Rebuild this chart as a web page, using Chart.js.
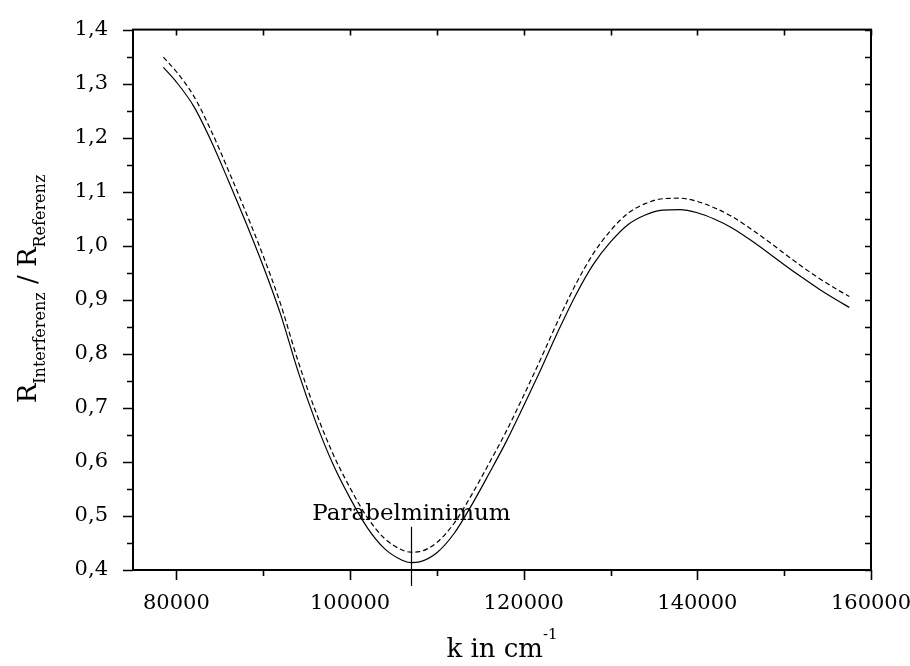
<!DOCTYPE html>
<html lang="de">
<head>
  <meta charset="UTF-8">
  <title>R Interferenz / R Referenz</title>
  <script src="https://cdn.jsdelivr.net/npm/chart.js"></script>
  <style>
    html, body { margin: 0; padding: 0; background: #fff; }
    .chart-box { position: relative; width: 910px; height: 666px; }
  </style>
</head>
<body>
  <div class="chart-box"><canvas id="chart"></canvas></div>

  <script>
    // wave number k (cm^-1)
    const kValues = [78500, 80000, 82000, 84000, 86000, 88000, 90000, 92000, 94000, 96000,
      98000, 100000, 102000, 104000, 106000, 107000, 108000, 110000, 112000, 114000,
      116000, 118000, 120000, 122000, 124000, 126000, 128000, 130000, 132000, 134000,
      136000, 138000, 140000, 142000, 144000, 146000, 148000, 150000, 152000, 154000,
      156000, 157500];
    // solid curve
    const solidValues = [1.330, 1.303, 1.258, 1.194, 1.120, 1.043, 0.962, 0.873, 0.768, 0.676,
      0.597, 0.533, 0.478, 0.439, 0.418, 0.4135, 0.415, 0.432, 0.468, 0.520,
      0.578, 0.638, 0.704, 0.772, 0.843, 0.909, 0.965, 1.007, 1.039, 1.057,
      1.066, 1.067, 1.061, 1.049, 1.033, 1.012, 0.989, 0.965, 0.942, 0.920,
      0.900, 0.886];
    // dashed curve
    const dashedValues = [1.349, 1.322, 1.277, 1.213, 1.139, 1.062, 0.981, 0.892, 0.787, 0.695,
      0.616, 0.552, 0.497, 0.458, 0.437, 0.433, 0.434, 0.451, 0.487, 0.539,
      0.597, 0.657, 0.723, 0.792, 0.863, 0.929, 0.985, 1.028, 1.060, 1.078,
      1.087, 1.088, 1.082, 1.070, 1.054, 1.033, 1.010, 0.986, 0.962, 0.940,
      0.920, 0.906];

    const xTickValues = [80000, 100000, 120000, 140000, 160000];
    const yTickValues = [0.4, 0.5, 0.6, 0.7, 0.8, 0.9, 1.0, 1.1, 1.2, 1.3, 1.4];

    const minimumK = 107000;
    const minimumTop = 0.48;
    const minimumLabel = 'Parabelminimum';

    const serif = "'DejaVu Serif', serif";

    // frame, major/minor ticks, axis titles and the minimum marker
    const framePlugin = {
      id: 'frame',
      afterDraw(chart) {
        const { ctx, chartArea: a, scales: { x, y } } = chart;
        ctx.save();
        ctx.strokeStyle = '#000';
        ctx.fillStyle = '#000';

        ctx.lineWidth = 2;
        ctx.strokeRect(a.left, a.top, a.right - a.left, a.bottom - a.top);

        ctx.lineWidth = 1.6;
        ctx.beginPath();
        const xMinor = xTickValues.slice(1).map((v, i) => (v + xTickValues[i]) / 2);
        xTickValues.forEach(v => {
          const px = Math.round(x.getPixelForValue(v)) + 0.5;
          ctx.moveTo(px, a.bottom); ctx.lineTo(px, a.bottom + 10);
          ctx.moveTo(px, a.top); ctx.lineTo(px, a.top + 6);
        });
        xMinor.forEach(v => {
          const px = Math.round(x.getPixelForValue(v)) + 0.5;
          ctx.moveTo(px, a.bottom); ctx.lineTo(px, a.bottom + 6);
          ctx.moveTo(px, a.top); ctx.lineTo(px, a.top + 6);
        });
        const yMinor = yTickValues.slice(1).map((v, i) => (v + yTickValues[i]) / 2);
        yTickValues.forEach(v => {
          const py = Math.round(y.getPixelForValue(v)) + 0.5;
          ctx.moveTo(a.left, py); ctx.lineTo(a.left - 10, py);
          ctx.moveTo(a.right, py); ctx.lineTo(a.right - 6, py);
        });
        yMinor.forEach(v => {
          const py = Math.round(y.getPixelForValue(v)) + 0.5;
          ctx.moveTo(a.left, py); ctx.lineTo(a.left - 6, py);
          ctx.moveTo(a.right, py); ctx.lineTo(a.right - 6, py);
        });
        ctx.stroke();

        // minimum marker
        const mx = Math.round(x.getPixelForValue(minimumK)) + 0.5;
        const my = y.getPixelForValue(minimumTop);
        ctx.lineWidth = 1.2;
        ctx.beginPath();
        ctx.moveTo(mx, my);
        ctx.lineTo(mx, a.bottom + 16);
        ctx.stroke();
        ctx.font = '23px ' + serif;
        ctx.textAlign = 'center';
        ctx.textBaseline = 'alphabetic';
        ctx.fillText(minimumLabel, mx, my - 7);

        // x title: k in cm^-1
        const big = '26px ' + serif, small = '16px ' + serif, sup = '15px ' + serif;
        const cx = (a.left + a.right) / 2;
        ctx.textAlign = 'left';
        ctx.font = big;
        const w1 = ctx.measureText('k in cm').width;
        ctx.font = sup;
        const w2 = ctx.measureText('-1').width;
        const sx = cx - (w1 + w2) / 2;
        ctx.font = big;
        ctx.fillText('k in cm', sx, 657);
        ctx.font = sup;
        ctx.fillText('-1', sx + w1, 639);

        // y title: R_Interferenz / R_Referenz
        const parts = [
          { t: 'R', f: big, dy: 0 },
          { t: 'Interferenz', f: small, dy: 9 },
          { t: ' / R', f: big, dy: 0 },
          { t: 'Referenz', f: small, dy: 9 }
        ];
        let total = 0;
        parts.forEach(p => { ctx.font = p.f; p.w = ctx.measureText(p.t).width; total += p.w; });
        ctx.translate(36, 289);
        ctx.rotate(-Math.PI / 2);
        let ox = -total / 2;
        parts.forEach(p => {
          ctx.font = p.f;
          ctx.fillText(p.t, ox, p.dy);
          ox += p.w;
        });
        ctx.restore();
      }
    };

    new Chart(document.getElementById('chart'), {
      type: 'line',
      data: {
        datasets: [
          {
            label: 'R',
            data: kValues.map((k, i) => ({ x: k, y: solidValues[i] })),
            borderColor: '#000',
            borderWidth: 1.2,
            pointRadius: 0,
            cubicInterpolationMode: 'monotone'
          },
          {
            label: 'R (gestrichelt)',
            data: kValues.map((k, i) => ({ x: k, y: dashedValues[i] })),
            borderColor: '#000',
            borderWidth: 1.2,
            borderDash: [5, 3],
            pointRadius: 0,
            cubicInterpolationMode: 'monotone'
          }
        ]
      },
      options: {
        responsive: true,
        maintainAspectRatio: false,
        animation: false,
        layout: { padding: { top: 29, right: 39, left: 0, bottom: 0 } },
        plugins: { legend: { display: false }, tooltip: { enabled: false } },
        scales: {
          x: {
            type: 'linear',
            min: 75000,
            max: 160000,
            grid: { display: false },
            border: { display: false },
            afterBuildTicks: s => { s.ticks = xTickValues.map(value => ({ value })); },
            afterFit: s => { s.height = 96; s.paddingLeft = 0; s.paddingRight = 0; },
            ticks: {
              color: '#000',
              padding: 13,
              maxRotation: 0,
              font: { family: serif, size: 21 },
              callback: v => String(v)
            }
          },
          y: {
            min: 0.4,
            max: 1.4,
            grid: { display: false },
            border: { display: false },
            afterBuildTicks: s => { s.ticks = yTickValues.map(value => ({ value })); },
            afterFit: s => { s.width = 133; },
            ticks: {
              color: '#000',
              padding: 17,
              font: { family: serif, size: 21 },
              callback: v => v.toFixed(1).replace('.', ',')
            }
          }
        }
      },
      plugins: [framePlugin]
    });
  </script>
</body>
</html>
